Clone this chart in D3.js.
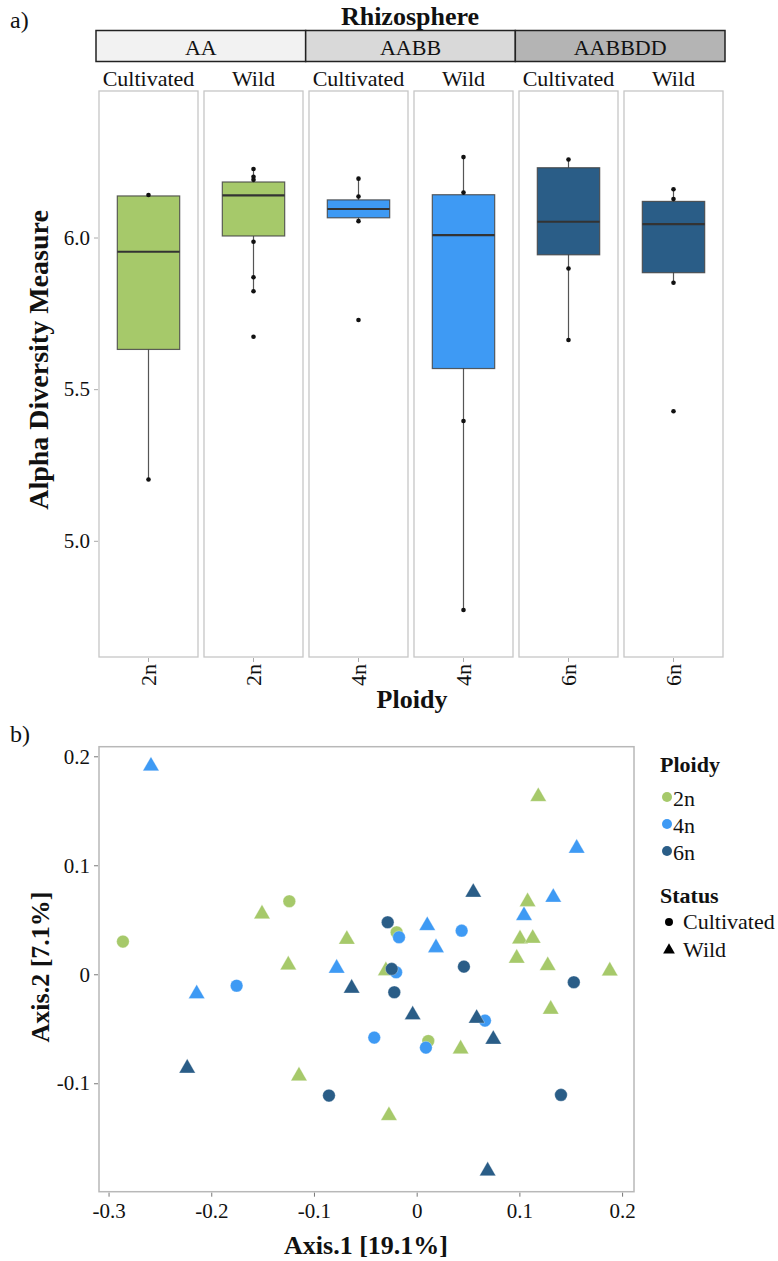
<!DOCTYPE html>
<html lang="en">
  <head>
    <meta charset="UTF-8" />
    <script src="https://cdn.jsdelivr.net/npm/d3@7"></script>
    <style>
      * {
        margin: 0;
        padding: 0;
      }
      body {
        background: #fff;
      }
      svg text {
        font-family: 'Liberation Serif', 'DejaVu Serif', serif;
        fill: #111;
      }
    </style>
    <title>Rhizosphere</title>
  </head>
  <body>
    <div id="d3-container"></div>
  </body>
  <script>
    // ---- panel a) data ----
    const genomes = ['AA', 'AABB', 'AABBDD'];
    const statuses = ['Cultivated', 'Wild'];
    const panelPloidy = ['2n', '2n', '4n', '4n', '6n', '6n'];
    const boxLow = [5.202, 5.823, 6.054, 4.772, 5.662, 5.851];
    const boxQ1 = [5.631, 6.005, 6.065, 5.568, 5.943, 5.884];
    const boxMedian = [5.953, 6.139, 6.094, 6.008, 6.052, 6.044];
    const boxQ3 = [6.137, 6.183, 6.124, 6.141, 6.23, 6.119];
    const boxHigh = [6.14, 6.226, 6.194, 6.265, 6.257, 6.159];
    const boxPoints = [
      [6.14, 5.202],
      [6.226, 6.2, 6.19, 5.986, 5.869, 5.823, 5.673],
      [6.194, 6.135, 6.054, 5.728],
      [6.265, 6.148, 5.395, 4.772],
      [6.257, 5.898, 5.662],
      [6.159, 6.127, 5.851, 5.427],
    ];
    const alphaTicks = [5.0, 5.5, 6.0];

    // ---- panel b) data ----
    const ploidyLevels = ['2n', '4n', '6n'];
    const ploidyColors = ['#a6c96a', '#3e9af4', '#2a5d87'];
    const axis1 = [
      -0.286, -0.124, -0.0195, 0.0113,
      -0.1506, -0.125, -0.068, -0.03, 0.1184, 0.108, 0.1006, 0.113, 0.0974, 0.1276, 0.188, 0.1305, 0.0428, -0.027, -0.1146,
      -0.1753, -0.0172, 0.0438, -0.02, 0.0665, -0.0413, 0.009,
      -0.2587, -0.0779, -0.2142, 0.1558, 0.133, 0.1045, 0.0103, 0.0188,
      -0.0282, 0.046, -0.0243, 0.153, -0.0218, 0.1405, -0.0854,
      -0.0633, 0.0551, -0.0039, 0.0584, 0.0746, 0.0691, -0.2234,
    ];
    const axis2 = [
      0.03, 0.067, 0.0385, -0.0612,
      0.0553, 0.0085, 0.032, 0.0033, 0.163, 0.0666, 0.0324, 0.033, 0.0147, 0.0079, 0.003, -0.0321, -0.0685, -0.1297, -0.0933,
      -0.0105, 0.034, 0.04, 0.0018, -0.0425, -0.0581, -0.0673,
      0.191, 0.0055, -0.018, 0.1156, 0.0706, 0.0538, 0.0446, 0.0244,
      0.0477, 0.007, 0.0049, -0.0073, -0.0165, -0.1107, -0.1113,
      -0.0128, 0.0752, -0.0373, -0.0404, -0.0597, -0.1805, -0.0862,
    ];
    const samplePloidy = [
      '2n', '2n', '2n', '2n',
      '2n', '2n', '2n', '2n', '2n', '2n', '2n', '2n', '2n', '2n', '2n', '2n', '2n', '2n', '2n',
      '4n', '4n', '4n', '4n', '4n', '4n', '4n',
      '4n', '4n', '4n', '4n', '4n', '4n', '4n', '4n',
      '6n', '6n', '6n', '6n', '6n', '6n', '6n',
      '6n', '6n', '6n', '6n', '6n', '6n', '6n',
    ];
    const sampleStatus = [
      'C', 'C', 'C', 'C',
      'W', 'W', 'W', 'W', 'W', 'W', 'W', 'W', 'W', 'W', 'W', 'W', 'W', 'W', 'W',
      'C', 'C', 'C', 'C', 'C', 'C', 'C',
      'W', 'W', 'W', 'W', 'W', 'W', 'W', 'W',
      'C', 'C', 'C', 'C', 'C', 'C', 'C',
      'W', 'W', 'W', 'W', 'W', 'W', 'W',
    ];
    const pcoaTicksX = [-0.3, -0.2, -0.1, 0, 0.1, 0.2];
    const pcoaTicksY = [-0.1, 0, 0.1, 0.2];

    const width = 778;
    const height = 1261;
    const serif = "'Liberation Serif', 'DejaVu Serif', serif";
    const colorOf = d3.scaleOrdinal().domain(ploidyLevels).range(ploidyColors);
    const tickFmt = (v) => (v === 0 ? '0' : String(v));

    const svg = d3
      .select('#d3-container')
      .append('svg')
      .attr('width', width)
      .attr('height', height)
      .attr('font-family', serif);

    const styleAxis = (g, size) => {
      g.attr('font-family', serif).attr('font-size', size);
      g.select('.domain').remove();
      g.selectAll('line').attr('stroke', '#777');
      g.selectAll('text').attr('fill', '#111');
    };

    // ================= a) boxplots =================
    const panelIds = d3.range(6);
    const xPanel = d3
      .scaleBand()
      .domain(panelIds)
      .range([99, 723])
      .paddingInner(6 / 105);
    const xGenome = d3.scaleBand().domain(genomes).range([96, 725]);
    const yAlpha = d3.scaleLinear().domain([4.617, 6.483]).range([657, 91]);
    const bw = xPanel.bandwidth();

    svg.append('text').text('a)').attr('x', 10).attr('y', 28).attr('font-size', 24);

    svg
      .append('text')
      .text('Rhizosphere')
      .attr('x', 410)
      .attr('y', 25)
      .attr('text-anchor', 'middle')
      .attr('font-size', 26)
      .attr('font-weight', 'bold');

    // genome strips
    const stripFill = ['#f2f2f2', '#d9d9d9', '#b4b4b4'];
    const strips = svg.append('g');
    strips
      .selectAll('rect')
      .data(genomes)
      .join('rect')
      .attr('x', (d) => xGenome(d))
      .attr('y', 30.5)
      .attr('width', xGenome.bandwidth())
      .attr('height', 31)
      .attr('fill', (d, i) => stripFill[i])
      .attr('stroke', '#222')
      .attr('stroke-width', 1.5);
    strips
      .selectAll('text')
      .data(genomes)
      .join('text')
      .attr('x', (d) => xGenome(d) + xGenome.bandwidth() / 2)
      .attr('y', 55)
      .attr('text-anchor', 'middle')
      .attr('font-size', 22)
      .text((d) => d);

    // status labels
    svg
      .append('g')
      .selectAll('text')
      .data(panelIds)
      .join('text')
      .attr('x', (d) => xPanel(d) + bw / 2)
      .attr('y', 86)
      .attr('text-anchor', 'middle')
      .attr('font-size', 22)
      .text((d) => statuses[d % 2]);

    // panel frames
    const panels = svg.append('g');
    panels
      .selectAll('rect.frame')
      .data(panelIds)
      .join('rect')
      .attr('class', 'frame')
      .attr('x', (d) => xPanel(d))
      .attr('y', yAlpha.range()[1])
      .attr('width', bw)
      .attr('height', yAlpha.range()[0] - yAlpha.range()[1])
      .attr('fill', '#fff')
      .attr('stroke', '#c6c6c6')
      .attr('stroke-width', 1.3);

    // y axis
    const yAxisG = svg
      .append('g')
      .attr('transform', `translate(${xPanel(0) - 1},0)`)
      .call(
        d3
          .axisLeft(yAlpha)
          .tickValues(alphaTicks)
          .tickFormat(d3.format('.1f'))
          .tickSize(4)
          .tickPadding(4)
      );
    styleAxis(yAxisG, 21);
    yAxisG.selectAll('line').attr('stroke', '#aaa');

    svg
      .append('text')
      .text('Alpha Diversity Measure')
      .attr('transform', 'translate(48,360) rotate(-90)')
      .attr('text-anchor', 'middle')
      .attr('font-size', 28)
      .attr('font-weight', 'bold');

    // whiskers
    const cx = (i) => xPanel(i) + bw / 2;
    panels
      .selectAll('line.whisker')
      .data(panelIds)
      .join('line')
      .attr('class', 'whisker')
      .attr('x1', cx)
      .attr('x2', cx)
      .attr('y1', (i) => yAlpha(boxLow[i]))
      .attr('y2', (i) => yAlpha(boxHigh[i]))
      .attr('stroke', '#555')
      .attr('stroke-width', 1.2);

    // boxes
    const boxW = bw * 0.63;
    panels
      .selectAll('rect.box')
      .data(panelIds)
      .join('rect')
      .attr('class', 'box')
      .attr('x', (i) => cx(i) - boxW / 2)
      .attr('y', (i) => yAlpha(boxQ3[i]))
      .attr('width', boxW)
      .attr('height', (i) => yAlpha(boxQ1[i]) - yAlpha(boxQ3[i]))
      .attr('fill', (i) => colorOf(panelPloidy[i]))
      .attr('stroke', '#444')
      .attr('stroke-opacity', 0.85)
      .attr('stroke-width', 1.2);

    panels
      .selectAll('line.median')
      .data(panelIds)
      .join('line')
      .attr('class', 'median')
      .attr('x1', (i) => cx(i) - boxW / 2)
      .attr('x2', (i) => cx(i) + boxW / 2)
      .attr('y1', (i) => yAlpha(boxMedian[i]))
      .attr('y2', (i) => yAlpha(boxMedian[i]))
      .attr('stroke', '#333')
      .attr('stroke-width', 2.2);

    // sample points
    panels
      .selectAll('circle')
      .data(panelIds.flatMap((i) => boxPoints[i].map((v) => ({ i, v }))))
      .join('circle')
      .attr('cx', (d) => cx(d.i))
      .attr('cy', (d) => yAlpha(d.v))
      .attr('r', 2.3)
      .attr('fill', '#111');

    // x ticks (rotated ploidy labels)
    const xt = svg.append('g');
    xt.selectAll('line')
      .data(panelIds)
      .join('line')
      .attr('x1', cx)
      .attr('x2', cx)
      .attr('y1', 658)
      .attr('y2', 662)
      .attr('stroke', '#aaa');
    xt.selectAll('text')
      .data(panelIds)
      .join('text')
      .attr('transform', (i) => `translate(${cx(i)},664) rotate(-90)`)
      .attr('text-anchor', 'end')
      .attr('dy', '0.33em')
      .attr('font-size', 22)
      .text((i) => panelPloidy[i]);

    svg
      .append('text')
      .text('Ploidy')
      .attr('x', 412)
      .attr('y', 708)
      .attr('text-anchor', 'middle')
      .attr('font-size', 26)
      .attr('font-weight', 'bold');

    // ================= b) PCoA =================
    svg.append('text').text('b)').attr('x', 10).attr('y', 742).attr('font-size', 24);

    const xS = d3.scaleLinear().domain([-0.3093, 0.2116]).range([99, 634]);
    const yS = d3.scaleLinear().domain([-0.1995, 0.2088]).range([1191.7, 746.7]);

    svg
      .append('rect')
      .attr('x', xS.range()[0])
      .attr('y', yS.range()[1])
      .attr('width', xS.range()[1] - xS.range()[0])
      .attr('height', yS.range()[0] - yS.range()[1])
      .attr('fill', '#fff')
      .attr('stroke', '#b8b8b8')
      .attr('stroke-width', 1.5);

    const xAx = svg
      .append('g')
      .attr('transform', `translate(0,${yS.range()[0] + 1})`)
      .call(d3.axisBottom(xS).tickValues(pcoaTicksX).tickFormat(tickFmt).tickSize(4).tickPadding(6));
    const yAx = svg
      .append('g')
      .attr('transform', `translate(${xS.range()[0] - 1},0)`)
      .call(d3.axisLeft(yS).tickValues(pcoaTicksY).tickFormat(tickFmt).tickSize(4).tickPadding(4));
    styleAxis(xAx, 21);
    styleAxis(yAx, 21);

    svg
      .append('text')
      .text('Axis.1 [19.1%]')
      .attr('x', 366)
      .attr('y', 1254)
      .attr('text-anchor', 'middle')
      .attr('font-size', 26)
      .attr('font-weight', 'bold');
    svg
      .append('text')
      .text('Axis.2 [7.1%]')
      .attr('transform', 'translate(49,967) rotate(-90)')
      .attr('text-anchor', 'middle')
      .attr('font-size', 26)
      .attr('font-weight', 'bold');

    const samples = axis1.map((x, i) => ({
      x,
      y: axis2[i],
      ploidy: samplePloidy[i],
      status: sampleStatus[i],
    }));
    const circleSym = d3.symbol().type(d3.symbolCircle).size(125);
    const triSym = d3.symbol().type(d3.symbolTriangle).size(115);

    svg
      .append('g')
      .selectAll('path')
      .data(samples)
      .join('path')
      .attr('d', (d) => (d.status === 'C' ? circleSym() : triSym()))
      .attr('transform', (d) => `translate(${xS(d.x)},${yS(d.y)})`)
      .attr('fill', (d) => colorOf(d.ploidy))
      .attr('stroke', '#fff')
      .attr('stroke-opacity', 0.5)
      .attr('stroke-width', 0.6);

    // legend
    const legend = svg.append('g');
    legend
      .append('text')
      .text('Ploidy')
      .attr('x', 660)
      .attr('y', 772)
      .attr('font-size', 22)
      .attr('font-weight', 'bold');
    legend
      .selectAll('circle.pl')
      .data(ploidyLevels)
      .join('circle')
      .attr('class', 'pl')
      .attr('cx', 667)
      .attr('cy', (d, i) => 797 + i * 27)
      .attr('r', 5)
      .attr('fill', (d) => colorOf(d));
    legend
      .selectAll('text.pl')
      .data(ploidyLevels)
      .join('text')
      .attr('class', 'pl')
      .attr('x', 673)
      .attr('y', (d, i) => 806 + i * 27)
      .attr('font-size', 22)
      .text((d) => d);

    legend
      .append('text')
      .text('Status')
      .attr('x', 660)
      .attr('y', 903)
      .attr('font-size', 22)
      .attr('font-weight', 'bold');
    const statusNames = ['Cultivated', 'Wild'];
    legend
      .selectAll('path.st')
      .data(statusNames)
      .join('path')
      .attr('class', 'st')
      .attr('d', (d, i) =>
        i === 0
          ? d3.symbol().type(d3.symbolCircle).size(50)()
          : d3.symbol().type(d3.symbolTriangle).size(60)()
      )
      .attr('transform', (d, i) => `translate(669,${922 + i * 28})`)
      .attr('fill', '#000');
    legend
      .selectAll('text.st')
      .data(statusNames)
      .join('text')
      .attr('class', 'st')
      .attr('x', 683)
      .attr('y', (d, i) => 929 + i * 28)
      .attr('font-size', 22)
      .text((d) => d);
  </script>
</html>
